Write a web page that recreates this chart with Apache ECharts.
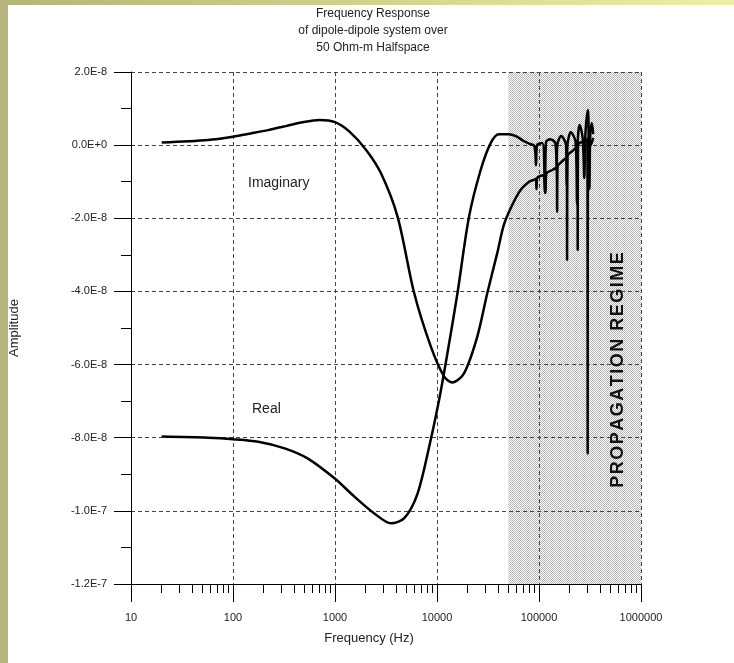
<!DOCTYPE html>
<html lang="en">
<head>
<meta charset="UTF-8">
<title>Frequency Response</title>
<script src="https://cdn.jsdelivr.net/npm/echarts@6/dist/echarts.min.js"></script>
<style>
    *{
        margin: 0;
        padding: 0;
    }
    body,html{
        width: 100%;
        height: 100%;
        overflow: hidden;
        background: #fff;
    }
    .box{
        width: 734px;
        height: 663px;
    }
</style>
</head>
<body>
<div class="box"></div>
<script>
    // amplitudes are kept in units of 1E-8
    let realFreq = [20, 57, 100, 177, 321, 543, 989, 1550, 2430, 3540, 4780, 6460, 8670, 10480, 12650, 15870,
        20600, 26800, 33500, 40400, 50600, 60000, 70000, 80000, 90000, 93500, 95500, 108000, 114500, 117000,
        129000, 145000, 149000, 151000, 165000, 184000, 187000, 190000, 205000, 228000, 236000, 241000,
        250000, 268000, 278000, 285000, 302000, 307000, 312000, 318000, 330000, 340000];
    let realAmp = [-7.97, -8.0, -8.04, -8.11, -8.29, -8.57, -9.11, -9.61, -10.07, -10.34, -10.2, -9.52, -8.06, -6.97, -5.69, -4.05,
        -1.96, -0.68, 0.05, 0.30, 0.30, 0.24, 0.12, 0.04, -0.02, -0.55, 0.0, 0.06, -1.3, 0.08,
        0.16, 0.05, -0.7, 0.0, 0.25, 0.0, -1.1, 0.0, 0.35, 0.1, -1.6, 0.2,
        0.55, 0.2, -0.9, 0.3, 0.96, 0.2, -1.2, 0.3, 0.6, 0.3];

    let imagFreq = [20, 57, 100, 150, 221, 330, 468, 706, 1000, 1387, 2020, 2825, 4110, 5980, 8710, 11750,
        14160, 18400, 24800, 31100, 38900, 45000, 52600, 65800, 80000, 88800, 93000, 94400, 96000, 110000,
        115500, 118000, 135000, 149000, 150500, 152000, 172000, 187000, 188500, 190000, 215000, 238000,
        239500, 241000, 270000, 298000, 300000, 302000, 320000, 340000];
    let imagAmp = [0.07, 0.14, 0.23, 0.32, 0.41, 0.52, 0.62, 0.69, 0.63, 0.37, -0.13, -0.77, -1.96, -4.05, -5.51, -6.33,
        -6.49, -6.24, -5.24, -4.05, -2.96, -2.2, -1.73, -1.23, -1.0, -0.95, -0.92, -1.2, -0.9, -0.82,
        -1.31, -0.78, -0.68, -0.62, -1.82, -0.6, -0.42, -0.35, -3.14, -0.3, -0.15, -0.05,
        -2.87, 0.0, 0.1, 0.15, -8.43, 0.2, 0.0, 0.2];

    let shadeRange = [50000, 1000000];
    let titleLines = ['Frequency Response', 'of dipole-dipole system over', '50 Ohm-m Halfspace'];
    let regimeText = 'PROPAGATION REGIME';

    function zip(xs, ys) {
        return xs.map((x, i) => [x, ys[i]]);
    }

    function ampLabel(v) {
        if (v === 0) return '0.0E+0';
        if (Math.abs(v) >= 10) return (v / 10).toFixed(1) + 'E-7';
        return v.toFixed(1) + 'E-8';
    }

    // dotted fill for the propagation regime
    let dots = document.createElement('canvas');
    dots.width = 2;
    dots.height = 2;
    let dctx = dots.getContext('2d');
    dctx.fillStyle = '#fff';
    dctx.fillRect(0, 0, 2, 2);
    dctx.fillStyle = '#b4b4b4';
    dctx.fillRect(0, 0, 1, 1);
    dctx.fillRect(1, 1, 1, 1);

    let gridLine = {show: true, lineStyle: {color: '#444', type: [4, 3], width: 1}};
    let font = 'Liberation Sans, Arial, sans-serif';

    let myChart = echarts.init(document.querySelector('.box'));

    let option = {
        backgroundColor: '#fff',
        animation: false,
        title: {
            text: titleLines.join('\n'),
            left: 368,
            top: 0,
            textAlign: 'center',
            textStyle: {
                fontFamily: font,
                fontSize: 12,
                fontWeight: 'normal',
                color: '#222',
                lineHeight: 17
            }
        },
        grid: {
            left: 129,
            top: 72,
            right: 93,
            bottom: 79
        },
        xAxis: {
            type: 'log',
            logBase: 10,
            min: 10,
            max: 1000000,
            z: 2,
            name: 'Frequency (Hz)',
            nameLocation: 'middle',
            nameGap: 48,
            nameTextStyle: {fontFamily: font, fontSize: 13, color: '#222', padding: [0, 34, 0, 0]},
            axisLine: {onZero: false, lineStyle: {color: '#000', width: 1}},
            axisTick: {length: 18, lineStyle: {color: '#000'}},
            minorTick: {show: true, splitNumber: 9, length: 9, lineStyle: {color: '#000'}},
            axisLabel: {
                margin: 28,
                fontFamily: font,
                fontSize: 11,
                color: '#222',
                formatter: v => String(Math.round(v))
            },
            splitLine: gridLine
        },
        yAxis: {
            type: 'value',
            min: -12,
            max: 2,
            interval: 2,
            z: 2,
            name: 'Amplitude',
            nameLocation: 'middle',
            nameGap: 110,
            nameRotate: 90,
            nameTextStyle: {fontFamily: font, fontSize: 13, color: '#222'},
            axisLine: {show: true, onZero: false, lineStyle: {color: '#000', width: 1}},
            axisTick: {show: true, length: 17, lineStyle: {color: '#000'}},
            minorTick: {show: true, splitNumber: 2, length: 10, lineStyle: {color: '#000'}},
            axisLabel: {
                margin: 24,
                fontFamily: font,
                fontSize: 11,
                color: '#222',
                formatter: ampLabel
            },
            splitLine: gridLine
        },
        graphic: [
            {type: 'rect', z: -10, shape: {x: 0, y: 0, width: 8, height: 663}, style: {fill: '#b4b47c'}},
            {
                type: 'rect', z: -10, shape: {x: 0, y: 0, width: 734, height: 5},
                style: {
                    fill: new echarts.graphic.LinearGradient(0, 0, 1, 0, [
                        {offset: 0, color: '#b4b47c'},
                        {offset: 1, color: '#f0eea6'}
                    ])
                }
            },
            {type: 'text', z: 100, x: 248, y: 183, style: {text: 'Imaginary', font: '14px ' + font, fill: '#222', verticalAlign: 'middle'}},
            {type: 'text', z: 100, x: 252, y: 409, style: {text: 'Real', font: '14px ' + font, fill: '#222', verticalAlign: 'middle'}},
            {
                type: 'text', z: 100, x: 618, y: 370, rotation: Math.PI / 2,
                style: {
                    // hair spaces stand in for the letter spacing
                    text: regimeText.split('').join('\u200A'),
                    font: 'bold 18px ' + font,
                    fill: '#111',
                    align: 'center',
                    verticalAlign: 'middle'
                }
            }
        ],
        series: [
            {
                name: 'shade',
                type: 'line',
                data: [],
                z: 0,
                markArea: {
                    silent: true,
                    z: 0,
                    itemStyle: {color: {image: dots, repeat: 'repeat'}, opacity: 1},
                    data: [[{xAxis: shadeRange[0]}, {xAxis: shadeRange[1]}]]
                }
            },
            {
                name: 'Real',
                type: 'line',
                z: 3,
                data: zip(realFreq, realAmp),
                showSymbol: false,
                smooth: 0.3,
                lineStyle: {color: '#000', width: 2.5}
            },
            {
                name: 'Imaginary',
                type: 'line',
                z: 3,
                data: zip(imagFreq, imagAmp),
                showSymbol: false,
                smooth: 0.3,
                lineStyle: {color: '#000', width: 2.5}
            }
        ]
    };

    myChart.setOption(option);
</script>
</body>
</html>
